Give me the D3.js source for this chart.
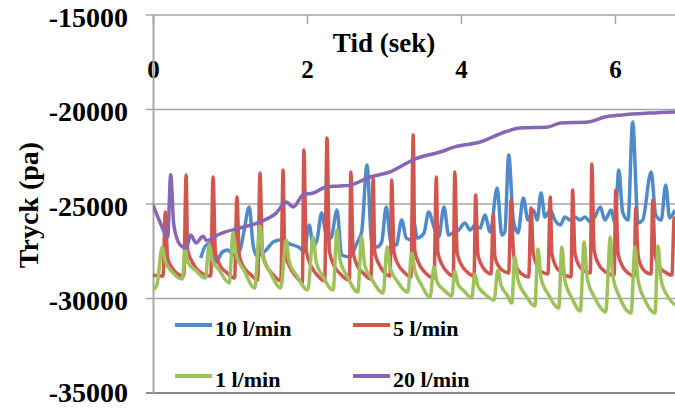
<!DOCTYPE html>
<html>
<head>
<meta charset="utf-8">
<script src="https://cdnjs.cloudflare.com/ajax/libs/d3/7.8.5/d3.min.js"></script>
<style>
  body { margin: 0; background: #fff; }
</style>
</head>
<body>
<script>

// tick labels
var xTicks = [0, 2, 4, 6];
var yTicks = [-35000, -30000, -25000, -20000, -15000];

var seriesNames = ["10 l/min", "5 l/min", "1 l/min", "20 l/min"];
var seriesColors = ["#4f8ac9", "#d0564f", "#9dc25a", "#8667b3"];

var serifFont = "'Liberation Serif', 'DejaVu Serif', 'Times New Roman', serif";

// [tid (sek), tryck (pa)]
var flow10 = [[0.62,-27860],[0.69,-27170],[0.75,-27120],[0.82,-28070],[0.90,-27540],[0.97,-27430],[1.05,-27700],[1.13,-27430],
  [1.18,-26480],[1.25,-25160],[1.30,-27170],[1.35,-27750],[1.47,-27430],[1.56,-27010],[1.65,-26900],[1.78,-27120],[1.91,-27330],
  [1.96,-27540],[2.03,-26110],[2.08,-27220],[2.13,-26900],[2.19,-25480],[2.25,-26640],[2.31,-26800],[2.39,-25320],[2.45,-27700],
  [2.55,-27800],[2.65,-27060],[2.71,-26480],[2.78,-22940],[2.84,-27060],[2.91,-27280],[2.97,-27010],[3.03,-25160],[3.09,-27060],
  [3.16,-27170],[3.23,-25850],[3.29,-26800],[3.35,-26900],[3.39,-26000],[3.43,-26800],[3.52,-26530],[3.58,-25420],[3.65,-26220],
  [3.71,-26750],[3.78,-25160],[3.84,-26640],[3.91,-26480],[3.97,-26380],[4.05,-26000],[4.12,-26380],[4.18,-26110],[4.25,-26270],
  [4.31,-25580],[4.38,-26480],[4.47,-24150],[4.53,-26640],[4.57,-26480],[4.62,-22410],[4.68,-25850],[4.74,-26530],[4.81,-24680],
  [4.87,-25850],[4.94,-25320],[4.99,-25850],[5.04,-24420],[5.09,-25690],[5.16,-25320],[5.22,-25850],[5.29,-26110],[5.35,-25690],
  [5.42,-25850],[5.48,-25690],[5.55,-25850],[5.61,-25690],[5.68,-25950],[5.74,-25690],[5.81,-25160],[5.87,-25850],[5.95,-25320],
  [6.00,-26000],[6.05,-23200],[6.10,-25420],[6.17,-25850],[6.23,-20660],[6.30,-26000],[6.36,-25850],[6.47,-23310],[6.53,-25580],
  [6.60,-25850],[6.66,-24000],[6.71,-25740],[6.78,-25320]];

var flow5 = [[0,-28760],[0.09,-28810],[0.13,-28810],[0.16,-25420],[0.19,-27860],[0.25,-28390],[0.32,-28700],[0.40,-28810],
  [0.43,-23470],[0.45,-27430],[0.51,-28070],[0.58,-28490],[0.75,-28810],[0.78,-23570],[0.81,-27540],[0.86,-28170],[0.95,-28600],
  [1.06,-28920],[1.09,-24630],[1.12,-27700],[1.17,-28280],[1.26,-28700],[1.36,-29020],[1.39,-23360],[1.42,-27540],[1.47,-28230],
  [1.55,-28700],[1.66,-29070],[1.69,-23200],[1.71,-27540],[1.77,-28280],[1.84,-28760],[1.94,-29130],[1.96,-22140],[1.99,-27430],
  [2.04,-28170],[2.12,-28700],[2.23,-29070],[2.26,-21510],[2.29,-27430],[2.34,-28170],[2.42,-28650],[2.55,-29020],[2.57,-23310],
  [2.60,-27540],[2.65,-28230],[2.73,-28650],[2.83,-28970],[2.86,-23620],[2.88,-27540],[2.94,-28230],[3.00,-28600],[3.08,-28810],
  [3.10,-23730],[3.13,-27540],[3.18,-28170],[3.26,-28600],[3.35,-28860],[3.38,-21350],[3.40,-27430],[3.45,-28120],[3.53,-28600],
  [3.65,-28920],[3.68,-23570],[3.70,-27540],[3.75,-28170],[3.82,-28600],[3.90,-28810],[3.92,-23310],[3.95,-27540],[4.00,-28170],
  [4.08,-28600],[4.17,-28810],[4.19,-24520],[4.22,-27650],[4.26,-28170],[4.32,-28540],[4.39,-28700],[4.42,-25580],[4.44,-27750],
  [4.48,-28230],[4.55,-28540],[4.62,-28650],[4.65,-24790],[4.68,-27430],[4.71,-28230],[4.79,-28700],[4.88,-28860],[4.91,-25210],
  [4.94,-27650],[4.99,-28280],[5.05,-28600],[5.13,-28700],[5.16,-24630],[5.18,-27590],[5.23,-28280],[5.31,-28650],[5.43,-28860],
  [5.45,-24260],[5.48,-27590],[5.53,-28230],[5.60,-28540],[5.68,-28650],[5.70,-22880],[5.73,-27430],[5.78,-28120],[5.86,-28540],
  [5.99,-28760],[6.01,-24260],[6.04,-27590],[6.09,-28230],[6.17,-28650],[6.25,-28810],[6.27,-25210],[6.30,-27700],[6.34,-28280],
  [6.40,-28600],[6.47,-28700],[6.49,-24790],[6.52,-27650],[6.57,-28280],[6.65,-28600],[6.74,-28760],[6.77,-25740],[6.78,-26640]];

var flow1 = [[0,-29550],[0.05,-29290],[0.12,-27280],[0.16,-28070],[0.25,-28600],[0.38,-28970],[0.42,-27380],[0.45,-28070],
  [0.55,-28490],[0.68,-28920],[0.73,-27170],[0.77,-27960],[0.86,-28490],[0.99,-29180],[1.04,-26530],[1.08,-27700],[1.18,-28490],
  [1.32,-29440],[1.39,-26160],[1.43,-27860],[1.52,-28600],[1.66,-29440],[1.73,-26900],[1.77,-28070],[1.87,-28810],[2.01,-29550],
  [2.08,-26750],[2.12,-28070],[2.21,-28860],[2.34,-29550],[2.39,-26380],[2.43,-27960],[2.52,-28810],[2.66,-29660],[2.71,-26750],
  [2.75,-28230],[2.84,-28970],[2.99,-29710],[3.04,-27280],[3.08,-28390],[3.17,-29070],[3.31,-29660],[3.36,-27590],[3.40,-28490],
  [3.48,-29230],[3.60,-29920],[3.65,-28330],[3.69,-29130],[3.78,-29550],[3.88,-29870],[3.92,-28540],[3.96,-29230],[4.04,-29600],
  [4.14,-29970],[4.18,-28700],[4.22,-29340],[4.31,-29760],[4.43,-30080],[4.48,-28490],[4.52,-29290],[4.60,-29820],[4.66,-30240],
  [4.70,-27800],[4.74,-29020],[4.84,-29820],[4.96,-30400],[5.00,-27380],[5.04,-28920],[5.14,-29820],[5.27,-30500],[5.31,-27280],
  [5.35,-29020],[5.44,-29970],[5.55,-30660],[5.60,-27010],[5.64,-28920],[5.74,-29970],[5.88,-30710],[5.94,-26750],[5.97,-28760],
  [6.06,-29920],[6.21,-30770],[6.26,-27280],[6.30,-29020],[6.39,-30080],[6.52,-30770],[6.56,-27220],[6.60,-29020],[6.69,-29920],
  [6.78,-30340]];

var flow20 = [[0,-25050],[0.09,-25950],[0.19,-26750],[0.23,-23450],[0.27,-26100],[0.35,-27150],[0.43,-27330],[0.49,-26640],
  [0.56,-27060],[0.65,-26700],[0.70,-26950],[0.81,-26700],[0.94,-26480],[1.13,-26270],[1.39,-25950],[1.60,-25480],[1.73,-24900],
  [1.82,-25160],[1.95,-24520],[2.08,-24420],[2.25,-24100],[2.43,-24050],[2.56,-24000],[2.82,-23570],[3.08,-23300],[3.40,-22620],
  [3.73,-22250],[3.92,-21980],[4.25,-21720],[4.57,-21190],[4.77,-20980],[5.13,-20930],[5.29,-20710],[5.65,-20660],[5.87,-20400],
  [6.09,-20290],[6.45,-20190],[6.78,-20130]];

var allSeries = [flow10, flow5, flow1, flow20];

var width = 675, height = 409;
var plot = { left: 153, right: 675, top: 15, bottom: 393 };

var svg = d3.select("body").append("svg")
  .attr("width", width)
  .attr("height", height);

// scales
var xScale = d3.scaleLinear().domain([0, 6.78]).range([plot.left, plot.right]);
var yScale = d3.scaleLinear().domain([-35000, -15000]).range([plot.bottom, plot.top]);

// horizontal grid lines (incl. the top line and the bottom line)
svg.append("g").selectAll("line")
  .data(yTicks)
  .enter().append("line")
  .attr("x1", plot.left - 7)
  .attr("x2", plot.right)
  .attr("y1", function(d) { return yScale(d); })
  .attr("y2", function(d) { return yScale(d); })
  .style("stroke", function(d) { return d == -35000 ? "#666" : "#a6a6a6"; })
  .style("stroke-width", 1.5);

// x axis sits on top, ticks pointing down
var xAxis = d3.axisBottom(xScale).tickValues(xTicks).tickSize(9).tickSizeOuter(0).tickPadding(36)
  .tickFormat(function(d) { return String(d); });
var gx = svg.append("g")
  .attr("transform", "translate(0," + plot.top + ")")
  .call(xAxis)
  .attr("font-family", serifFont)
  .attr("font-weight", "bold")
  .attr("font-size", 25);
gx.select(".domain").remove();
gx.selectAll(".tick line").style("stroke", "#a6a6a6").style("stroke-width", 1.5);
gx.selectAll(".tick text").style("fill", "#000");

// y axis
var yAxis = d3.axisLeft(yScale).tickValues(yTicks).tickSize(0).tickPadding(25)
  .tickFormat(function(d) { return String(d); });
var gy = svg.append("g")
  .attr("transform", "translate(" + plot.left + ",0)")
  .call(yAxis)
  .attr("font-family", serifFont)
  .attr("font-weight", "bold")
  .attr("font-size", 28);
gy.select(".domain").style("stroke", "#a6a6a6").style("stroke-width", 2);
// lowest label sits close to the bottom edge
gy.selectAll(".tick text")
  .attr("dy", function(d) { return d == -35000 ? "0.3em" : "0.4em"; })
  .style("fill", "#000");

// lines
svg.append("clipPath").attr("id", "clip")
  .append("rect")
  .attr("x", plot.left).attr("y", plot.top)
  .attr("width", plot.right - plot.left).attr("height", plot.bottom - plot.top);

var line = d3.line()
  .curve(d3.curveMonotoneX)
  .x(function(d) { return xScale(d[0]); })
  .y(function(d) { return yScale(d[1]); });

svg.append("g").attr("clip-path", "url(#clip)")
  .selectAll("path")
  .data(allSeries)
  .enter().append("path")
  .attr("d", line)
  .style("fill", "none")
  .style("stroke", function(d, i) { return seriesColors[i]; })
  .style("stroke-width", 3.5)
  .style("stroke-linejoin", "round");

// axis titles
svg.append("text")
  .attr("x", 384).attr("y", 52)
  .attr("text-anchor", "middle")
  .attr("font-family", serifFont)
  .attr("font-weight", "bold")
  .attr("font-size", 27)
  .text("Tid (sek)");

svg.append("text")
  .attr("transform", "translate(38,205) rotate(-90)")
  .attr("text-anchor", "middle")
  .attr("font-family", serifFont)
  .attr("font-weight", "bold")
  .attr("font-size", 28)
  .text("Tryck (pa)");

// legend, two rows of two
var legendX = [175, 353], legendY = [325, 376];
var legend = svg.append("g").selectAll("g")
  .data(seriesNames)
  .enter().append("g")
  .attr("transform", function(d, i) { return "translate(" + legendX[i % 2] + "," + legendY[Math.floor(i / 2)] + ")"; });

legend.append("line")
  .attr("x1", 0).attr("x2", 37)
  .style("stroke", function(d, i) { return seriesColors[i]; })
  .style("stroke-width", 4);

legend.append("text")
  .attr("x", 40).attr("y", 11)
  .attr("font-family", serifFont)
  .attr("font-weight", "bold")
  .attr("font-size", 22)
  .text(function(d) { return d; });

</script>
</body>
</html>
